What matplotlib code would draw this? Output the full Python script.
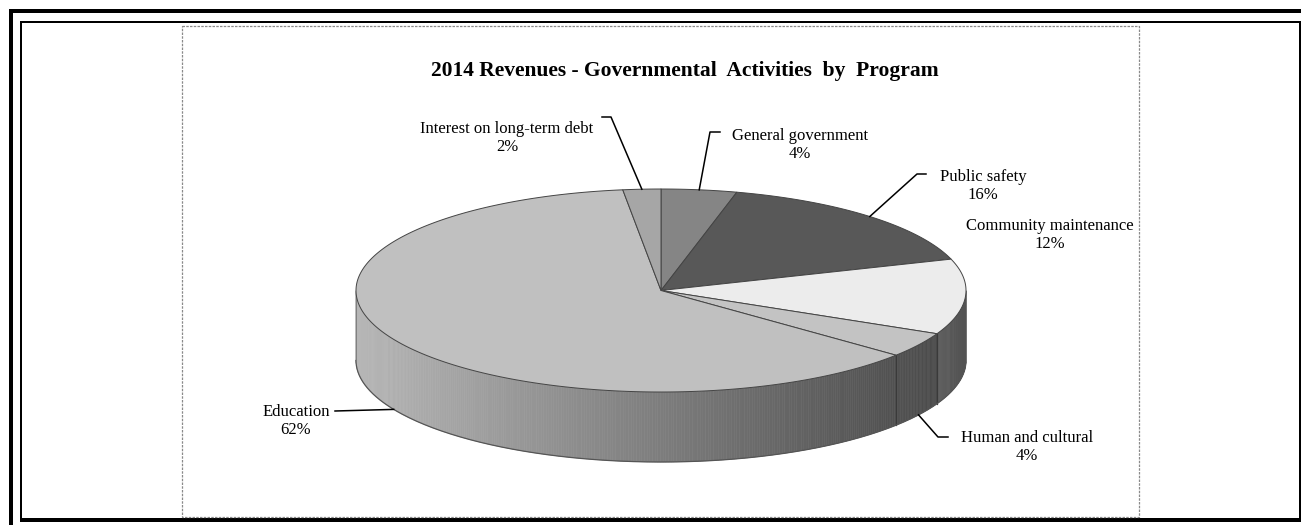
import numpy as np
import matplotlib
matplotlib.use("Agg")
import matplotlib.pyplot as plt
from matplotlib.patches import Polygon, Rectangle
from matplotlib.colors import to_rgb

# Revenue shares by program, in drawing order (clockwise from 12 o'clock)
categories = ["General government", "Public safety", "Community maintenance",
              "Human and cultural", "Education", "Interest on long-term debt"]
shares = [4, 16, 12, 4, 62, 2]
top_colors = ["#858585", "#585858", "#ececec", "#c3c3c3", "#c0c0c0", "#a6a6a6"]
title = "2014 Revenues - Governmental  Activities  by  Program"

# label block centres and leader-line elbows (pixel space)
label_pos = [(800, 145), (983, 186), (1050, 235), (1027, 447), (296, 421), (507, 138)]
leader_elbow = [[(720, 132), (710, 132)],
                [(926, 174), (917, 174)],
                None,
                [(948, 437), (938, 437)],
                [(335, 411)],
                [(602, 117), (611, 117)]]
leader_on_side = [False, False, False, True, True, False]

W, H = 1301, 525
fig = plt.figure(figsize=(W / 100, H / 100), dpi=100)
ax = fig.add_axes([0, 0, 1, 1])
ax.set_xlim(0, W)
ax.set_ylim(H, 0)
ax.axis("off")

SERIF = ["Liberation Serif", "DejaVu Serif"]

# page frame
k = "black"
for (x, y, w, h) in [(9, 9, W - 9, 3.6), (9, 9, 4, H - 9),
                     (20, 20.5, W - 20, 2), (20, 20.5, 2, 500),
                     (1298.5, 20.5, 2, 500), (20, 518, W - 20, 4)]:
    ax.add_patch(Rectangle((x, y), w, h, facecolor=k, edgecolor="none", zorder=1))

# chart area border
ax.add_patch(Rectangle((182, 26), 957, 491, fill=False, edgecolor="#8a8a8a",
                       linestyle=(0, (2, 1)), linewidth=0.9, zorder=2))

# 3-D pie geometry
cx, cy, rx, ry, depth = 661, 290.5, 305, 101.5, 70


def pt(theta, drop=0.0):
    t = np.radians(theta)
    return cx + rx * np.sin(t), cy - ry * np.cos(t) + drop


def shade(theta):
    s = np.sin(np.radians(theta))
    return 0.65 - 0.30 * s


bounds = np.concatenate([[0], np.cumsum(shares)]) * 360.0 / sum(shares)

# side wall (front half only)
step = 0.5
for i, base in enumerate(top_colors):
    a0, a1 = max(bounds[i], 90), min(bounds[i + 1], 270)
    if a1 <= a0:
        continue
    rgb = np.array(to_rgb(base))
    angs = np.arange(a0, a1, step)
    for t0 in angs:
        t1 = min(t0 + step, a1)
        c = np.clip(rgb * shade((t0 + t1) / 2), 0, 1)
        quad = [pt(t0), pt(t1), pt(t1, depth), pt(t0, depth)]
        ax.add_patch(Polygon(quad, closed=True, facecolor=c, edgecolor=c,
                             linewidth=0.4, zorder=3))
    # vertical seam at the slice boundary
    for b in (a0, a1):
        if 90 < b < 270:
            p, q = pt(b), pt(b, depth)
            ax.plot([p[0], q[0]], [p[1], q[1]], color="#3a3a3a", lw=0.8, zorder=4)

# outline of the wall
arc = np.linspace(90, 270, 300)
bx, by = zip(*[pt(a, depth) for a in arc])
ax.plot(bx, by, color="#555555", lw=0.9, zorder=4)
for b in (90, 270):
    p, q = pt(b), pt(b, depth)
    ax.plot([p[0], q[0]], [p[1], q[1]], color="#777777", lw=0.6, zorder=4)

# top faces
for i, base in enumerate(top_colors):
    a0, a1 = bounds[i], bounds[i + 1]
    angs = np.linspace(a0, a1, max(int((a1 - a0) / step), 2) + 1)
    poly = [(cx, cy)] + [pt(a) for a in angs]
    ax.add_patch(Polygon(poly, closed=True, facecolor=base, edgecolor="#444444",
                         linewidth=0.7, joinstyle="round", zorder=5))

# title
ax.text(685, 71, title, ha="center", va="center", fontsize=15.5, fontweight="bold",
        family=SERIF, zorder=6)

# data labels with leader lines
for i, name in enumerate(categories):
    mid = (bounds[i] + bounds[i + 1]) / 2
    lx, ly = label_pos[i]
    ax.text(lx, ly, f"{name}\n{shares[i]}%", ha="center", va="center",
            fontsize=12, family=SERIF, linespacing=1.12, zorder=6)
    elbow = leader_elbow[i]
    if elbow is None:
        continue
    anchor = pt(mid, depth if leader_on_side[i] else 0)
    xs = [e[0] for e in elbow] + [anchor[0]]
    ys = [e[1] for e in elbow] + [anchor[1]]
    ax.plot(xs, ys, color="black", lw=1.1, zorder=6)

fig.savefig("out.png", dpi=100)
